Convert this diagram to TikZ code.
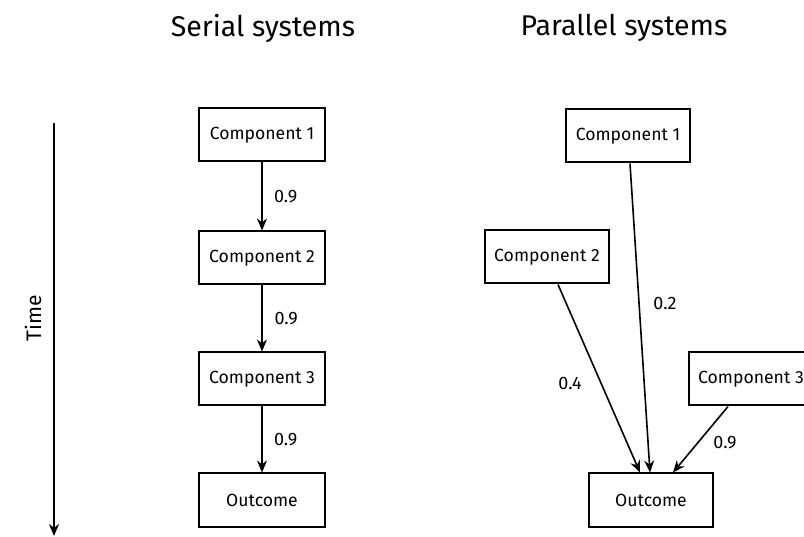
\documentclass[tikz,border=0pt]{standalone}
\usepackage{fontspec}
\setmainfont{Fira Sans}
\usetikzlibrary{arrows.meta}

\tikzset{
  comp/.style={draw, line width=2pt, minimum width=124pt, minimum height=53pt,
    inner sep=0pt, font=\fontsize{17.6}{20}\selectfont},
  link/.style={-{Stealth[length=12pt,width=10pt]}, line width=1.6pt},
  prob/.style={font=\fontsize{18}{21}\selectfont},
  heading/.style={font=\fontsize{28.5}{32}\selectfont}
}

\begin{document}
\begin{tikzpicture}[x=1pt,y=-1pt]
	\useasboundingbox (0,0) rectangle (804,537);
	% Titles
	\node[heading] (tser) at (263,28) {Serial systems};
	\node[heading] (tpar) at (624,28) {Parallel systems};
	% Time axis
	\coordinate (ttop) at (54,123);
	\coordinate (tbot) at (54,536);
	\draw[link] (ttop) -- (tbot);
	\node[prob, font=\fontsize{21}{24}\selectfont, rotate=90] (time) at (33,318) {Time};
	% Serial systems
	\foreach \n/\y/\t in {s1/135/Component 1, s2/258/Component 2, s3/379/Component 3, so/500/Outcome}
		\node[comp, minimum width=126pt] (\n) at (262,\y) {\t};
	\draw[link] (s1) -- (s2) node[prob, midway, anchor=west, xshift=8pt] (ps1) {0.9};
	\draw[link, line width=2.5pt] (s2) -- (s3) node[prob, midway, anchor=west, xshift=8pt] (ps2) {0.9};
	\draw[link] (s3) -- (so) node[prob, midway, anchor=west, xshift=8pt] (ps3) {0.9};
	% Parallel systems
	\node[comp] (p1) at (628,136) {Component 1};
	\node[comp] (p2) at (547,257) {Component 2};
	\node[comp] (p3) at (751,379) {Component 3};
	\node[comp] (po) at (651,500) {Outcome};
	\draw[link] ([xshift=2pt]p1.south) -- ([xshift=-1pt]po.north);
	\draw[link] ([xshift=11pt]p2.south) -- ([xshift=-11pt]po.north);
	\draw[link] ([xshift=-23pt]p3.south) -- ([xshift=22pt]po.north);
	\node[prob] (pp1) at (665,303) {0.2};
	\node[prob] (pp2) at (570,383) {0.4};
	\node[prob] (pp3) at (725,443) {0.9};
\end{tikzpicture}
\end{document}
